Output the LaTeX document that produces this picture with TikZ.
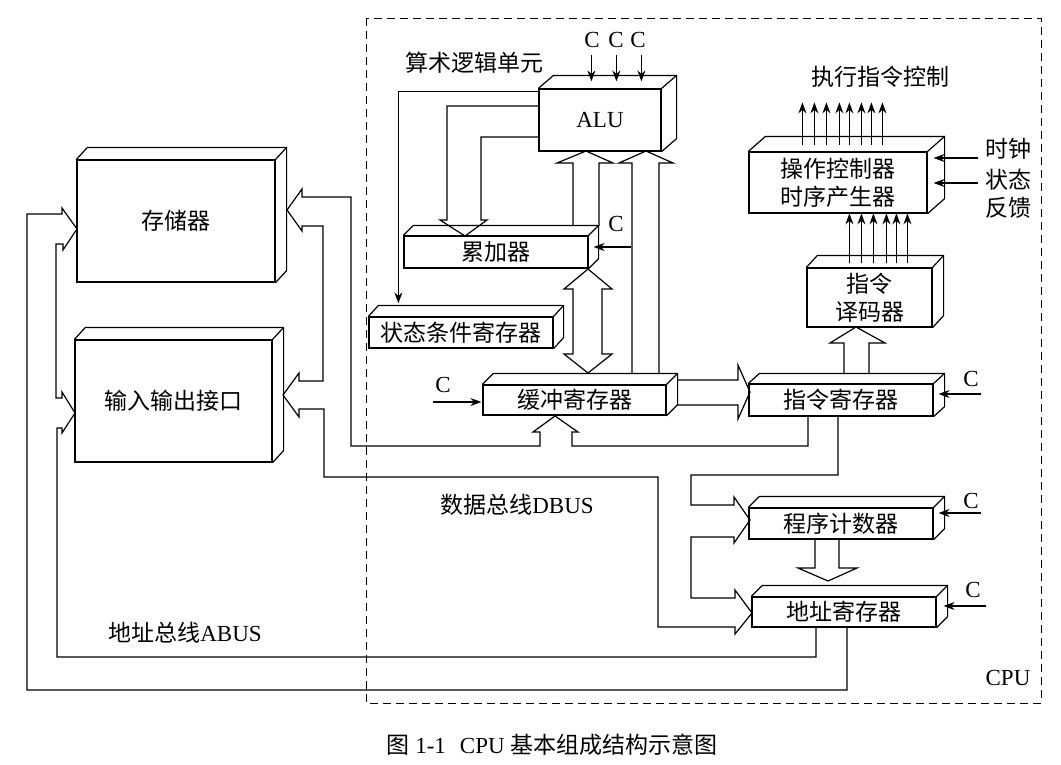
\documentclass[tikz,border=0pt]{standalone}
\usepackage{fontspec}
\setmainfont{Liberation Serif}
\newfontfamily\cjk{Noto Sans CJK SC}
\usetikzlibrary{arrows.meta,calc}

\tikzset{every picture/.style={line width=1.2pt}}
\tikzset{
  reg/.style={draw, rectangle, inner sep=0pt, font=\cjk, align=center},
  sig/.style={-{Stealth[length=11pt,width=8pt]}},
  lbl/.style={inner sep=0pt, font=\cjk},
  clk/.style={inner sep=0pt, font=\rmfamily},
}
% top and right face of a register box
\newcommand{\faces}[3]{%
  \draw (#1.north west) -- ++(#2,-#3) -| ($(#1.south east)+(#2,-#3)$) -- (#1.south east);
  \draw (#1.north east) -- ++(#2,-#3);
}

\begin{document}
\fontsize{23}{28}\selectfont
\begin{tikzpicture}[x=1pt,y=1pt,yscale=-1]
	\useasboundingbox (0,0) rectangle (1061,764);

	%CPU frame
	\draw [line width=1pt, dash pattern=on 8pt off 5pt] (366,18) rectangle (1041,703);
	\node [clk] (cpu) at (1008,678) {CPU};

	%Registers
	\node [reg, minimum width=198, minimum height=122] (mem) at (176,221) {存储器};
	\faces{mem}{11}{12}
	\node [reg, minimum width=197, minimum height=122] (io) at (173.5,401) {输入输出接口};
	\faces{io}{11}{12}
	\node [reg, font=\rmfamily, minimum width=122, minimum height=62] (alu) at (600,120) {ALU};
	\faces{alu}{15}{13}
	\node [reg, minimum width=184, minimum height=32] (acc) at (496,252) {累加器};
	\faces{acc}{10}{10}
	\node [reg, minimum width=184, minimum height=31] (psw) at (461,332.5) {状态条件寄存器};
	\faces{psw}{10}{11}
	\node [reg, minimum width=183, minimum height=30] (buf) at (574.5,400) {缓冲寄存器};
	\faces{buf}{11}{11}
	\node [reg, minimum width=184, minimum height=32] (ir) at (841,400) {指令寄存器};
	\faces{ir}{11}{10}
	\node [reg, minimum width=184, minimum height=31] (pc) at (841,523.5) {程序计数器};
	\faces{pc}{11}{11}
	\node [reg, minimum width=184, minimum height=30] (ar) at (844,612) {地址寄存器};
	\faces{ar}{11}{11}
	\node [reg, minimum width=125, minimum height=59] (dec) at (869.5,297.5) {指令\\译码器};
	\faces{dec}{11}{12}
	\node [reg, minimum width=178, minimum height=61] (cu) at (838,182.5) {操作控制器\\时序产生器};
	\faces{cu}{17}{15}

	%Labels
	\node [lbl] (alulbl) at (474,63) {算术逻辑单元};
	\node [lbl] (exlbl) at (880,77) {执行指令控制};
	\node [clk] (dbus) at (517,505) {{\cjk 数据总线}DBUS};
	\node [clk] (abus) at (185,633) {{\cjk 地址总线}ABUS};
	\node [lbl] (tclk) at (1008,149) {时钟};
	\node [lbl] (tsta) at (1008,180) {状态};
	\node [lbl] (tfb) at (1008,208) {反馈};

	%Control inputs C
	\node [clk] (ca1) at (592,40) {C};
	\node [clk] (ca2) at (616,40) {C};
	\node [clk] (ca3) at (638,40) {C};
	\foreach \d in {53,78,103}
		\draw [sig] ($(alu.north west)+(\d,-33)$) -- ++(0,26);
	\node [clk] (cacc) at (616,224) {C};
	\draw [sig] ($(acc.east)+(42,-5)$) -- ++(-37,0);
	\node [clk] (cbuf) at (443,385) {C};
	\draw [sig] ($(buf.west)+(-49,2)$) -- ++(48,0);
	\node [clk] (cir) at (971,379) {C};
	\draw [sig] ($(ir.east)+(47,-6)$) -- ++(-42,0);
	\node [clk] (cpc) at (971,501) {C};
	\draw [sig] ($(pc.east)+(47,-10.5)$) -- ++(-42,0);
	\node [clk] (car) at (973,590) {C};
	\draw [sig] ($(ar.east)+(49,-6)$) -- ++(-42,0);

	%Clock and status into controller
	\draw [sig] ($(cu.east)+(50,-24.5)$) -- ++(-44,0);
	\draw [sig] ($(cu.east)+(50,0.5)$) -- ++(-44,0);

	%Decoder to controller
	\foreach \d in {43,55,67,80,90,101}
		\draw [sig] ($(dec.north west)+(\d,-4)$) -- ++(0,-50);
	%Controller outputs
	\foreach \d in {54,66,78,91,101,113,123,134}
		\draw [sig] ($(cu.north west)+(\d,-6)$) -- ++(0,-43);

	%ALU to status register
	\draw [sig] ($(alu.north west)+(0,3)$) -| ($(psw.north west)+(30,-13)$);

	%Shape: ALU to accumulator
	\draw (alu.west |- 0,106) -- (447,106) -- (447,220) -- (440,220) -- (465,236) -- (487,220) -- (481,220) -- (481,137) -- (alu.west |- 0,137);
	%Shape: accumulator to ALU
	\draw (573,226) -- (573,163) -- (557,163) -- (586,151) -- (613,163) -- (599,163) -- (599,226);
	%Shape: buffer to ALU
	\draw (632,374) -- (632,163) -- (619,163) -- (646,151) -- (673,163) -- (659,163) -- (659,374);
	%Shape: accumulator <-> buffer
	\draw (588,269) -- (612,289) -- (602,289) -- (602,354) -- (612,354) -- (588,373) -- (564,354) -- (573,354) -- (573,289) -- (564,289) -- cycle;
	%Shape: buffer to instruction register
	\draw (677,380) -- (738,380) -- (738,365) -- (750,392) -- (738,419) -- (738,405) -- (677,405);
	%Shape: instruction register to decoder
	\draw (844,374) -- (844,343) -- (830,343) -- (856,327) -- (885,343) -- (869,343) -- (869,374);
	%Shape: program counter to address register
	\draw (815,539) -- (815,568) -- (798,568) -- (828,581) -- (857,568) -- (839,568) -- (839,539);

	%Shape: data bus
	\draw (808,416) -- (808,446) -- (572,446) -- (572,432) -- (578,432) -- (555,416) -- (533,432) -- (540,432) -- (540,446)
		-- (351,446) -- (351,197) -- (302,197) -- (302,189) -- (287,210) -- (302,231) -- (302,226) -- (323,226)
		-- (323,381) -- (299,381) -- (299,373) -- (283,395) -- (299,417) -- (299,409) -- (324,409)
		-- (324,477) -- (658,477) -- (658,627) -- (735,627) -- (735,634) -- (752,613) -- (735,590) -- (735,598)
		-- (691,598) -- (691,537) -- (734,537) -- (734,543) -- (750,520) -- (734,497) -- (734,505)
		-- (691,505) -- (691,475) -- (838,475) -- (838,416);

	%Shape: address bus
	\draw (816,627) -- (816,657) -- (57,657) -- (57,428) -- (62,428) -- (62,433) -- (75,413) -- (62,392) -- (62,398)
		-- (56,398) -- (56,244) -- (63,244) -- (63,250) -- (77,229) -- (62,208) -- (62,214) -- (27,214)
		-- (27,690) -- (847,690) -- (847,627);

	%Caption
	\node [clk] (cap) at (552,745) {{\cjk 图} 1-1\hspace{14pt}CPU {\cjk 基本组成结构示意图}};
\end{tikzpicture}
\end{document}
